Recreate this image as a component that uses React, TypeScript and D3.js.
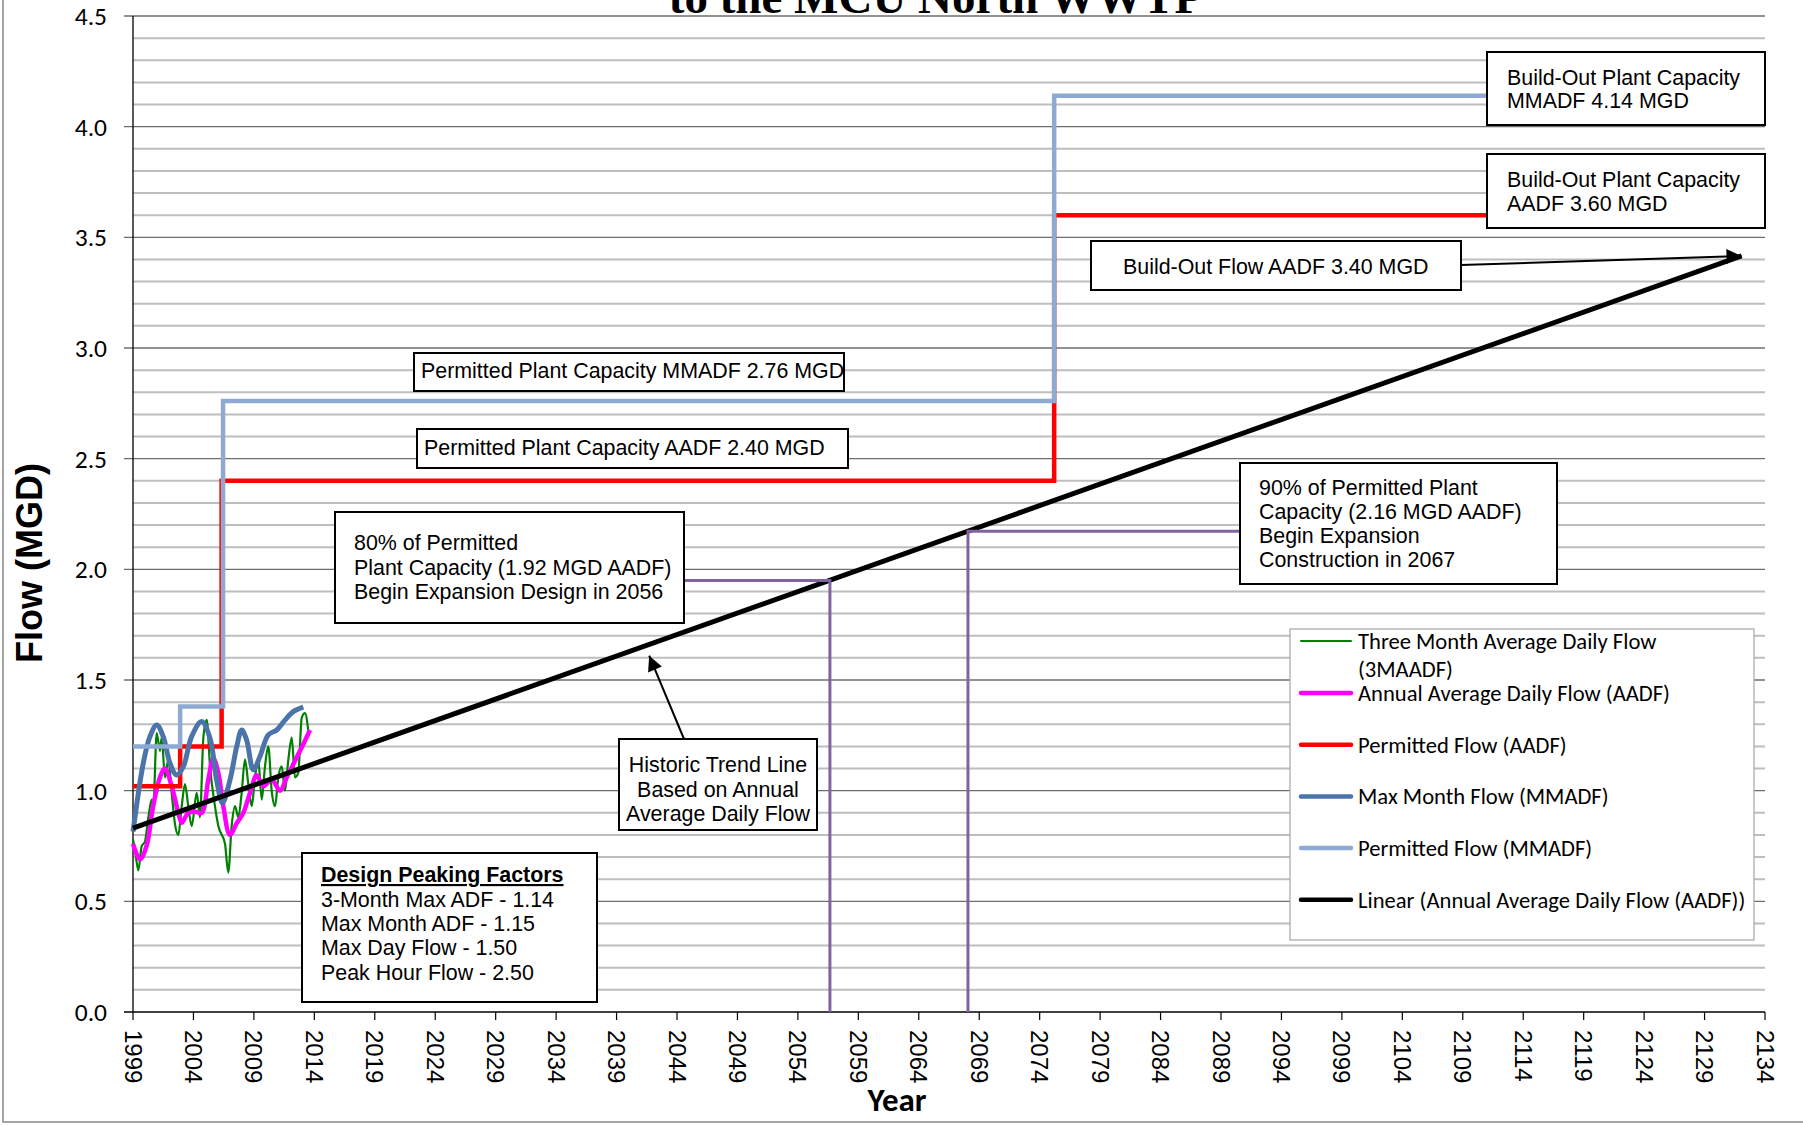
import * as d3 from 'd3';

// ---- data ----
const yearTicks = [1999, 2004, 2009, 2014, 2019, 2024, 2029, 2034, 2039, 2044, 2049, 2054, 2059, 2064, 2069, 2074, 2079, 2084, 2089, 2094, 2099, 2104, 2109, 2114, 2119, 2124, 2129, 2134];
const flowTicks = [0, 0.5, 1, 1.5, 2, 2.5, 3, 3.5, 4, 4.5];

// Three Month Average Daily Flow (3MAADF)
const threeMonthYears = [1999.0, 1999.17, 1999.44, 1999.72, 1999.99, 2000.27, 2000.55, 2000.68, 2000.96, 2001.23, 2001.37, 2001.65, 2001.92, 2002.2, 2002.47, 2002.75, 2003.03, 2003.3, 2003.57, 2003.86, 2004.27, 2004.54, 2004.82, 2005.1, 2005.37, 2005.78, 2006.06, 2006.61, 2006.88, 2007.16, 2007.44, 2007.71, 2007.99, 2008.26, 2008.54, 2008.82, 2009.09, 2009.36, 2009.65, 2009.92, 2010.19, 2010.47, 2010.75, 2011.02, 2011.3, 2011.57, 2011.85, 2012.13, 2012.4, 2012.67, 2012.96, 2013.23, 2013.5];
const threeMonthFlow = [0.78, 0.73, 0.64, 0.75, 0.77, 0.88, 0.96, 0.93, 1.26, 1.18, 1.24, 1.06, 1.14, 0.99, 0.85, 0.8, 0.93, 1.03, 0.93, 0.84, 0.99, 0.88, 1.24, 1.32, 1.11, 0.93, 0.84, 0.76, 0.63, 0.84, 0.93, 0.88, 0.99, 1.14, 1.03, 0.93, 1.06, 1.14, 0.96, 1.11, 1.2, 1.0, 0.93, 1.06, 1.11, 1.0, 1.14, 1.24, 1.06, 1.08, 1.33, 1.35, 1.27];

// Annual Average Daily Flow (AADF)
const annualYears = [1999.0, 1999.58, 2000.12, 2000.67, 2001.23, 2001.64, 2002.2, 2002.75, 2003.03, 2003.57, 2004.13, 2004.68, 2005.23, 2005.64, 2006.06, 2006.47, 2007.02, 2007.58, 2008.13, 2008.68, 2009.23, 2009.78, 2010.47, 2011.16, 2011.71, 2012.54, 2013.09, 2013.64];
const annualFlow = [0.76, 0.69, 0.75, 0.93, 1.06, 1.1, 1.02, 0.9, 0.855, 0.9, 0.905, 0.9, 1.05, 1.146, 1.08, 0.93, 0.8, 0.853, 0.9, 0.99, 1.07, 1.02, 1.05, 1.0, 1.06, 1.15, 1.21, 1.274];

// Max Month Flow (MMADF)
const maxMonthYears = [1999.0, 1999.85, 2000.4, 2000.96, 2001.5, 2002.06, 2002.6, 2003.16, 2003.85, 2004.68, 2005.37, 2005.92, 2006.4, 2007.02, 2007.58, 2007.99, 2008.4, 2008.95, 2009.5, 2010.19, 2010.89, 2011.57, 2012.26, 2013.09];
const maxMonthFlow = [0.815, 1.124, 1.244, 1.297, 1.244, 1.124, 1.071, 1.108, 1.244, 1.312, 1.237, 1.048, 0.945, 1.048, 1.199, 1.274, 1.229, 1.094, 1.154, 1.252, 1.274, 1.319, 1.357, 1.377];

// Permitted flows (step series)
const permittedYears = [1999, 2002.9, 2006.33, 2075.2, 2134];
const permittedAADF = [1.02, 1.2, 2.4, 3.6, 3.6];
const permittedMMADFYears = [1999, 2002.9, 2006.45, 2075.2, 2134];
const permittedMMADF = [1.2, 1.38, 2.76, 4.14, 4.14];

// Linear trend of AADF
const trendYears = [1999, 2132.06];
const trendFlow = [0.831, 3.416];

// 80% / 90% capacity markers
const design80Years = [2030, 2056.65, 2056.65];
const design80Flow = [1.95, 1.95, 0];
const constr90Years = [2068.07, 2068.07, 2095];
const constr90Flow = [0, 2.172, 2.172];

const legendItems = [
  { label: ['Three Month Average Daily Flow', '(3MAADF)'], color: '#008000', width: 2 },
  { label: ['Annual Average Daily Flow (AADF)'], color: '#FF00FF', width: 4.5 },
  { label: ['Permitted Flow (AADF)'], color: '#FF0000', width: 4.5 },
  { label: ['Max Month Flow (MMADF)'], color: '#4A74AA', width: 4.5 },
  { label: ['Permitted Flow (MMADF)'], color: '#8EAAD2', width: 4.5 },
  { label: ['Linear (Annual Average Daily Flow (AADF))'], color: '#000000', width: 4.5 },
];

const W = 1803;
const H = 1125;
const left = 133;
const right = 1765;
const top = 16;
const bottom = 1012;

const arial = '"Liberation Sans", Arial, sans-serif';
const calibri = 'Carlito, Lato, "Open Sans", sans-serif';
const boxFont = 21.4;

export default function App() {
  const x = d3.scaleLinear().domain([1999, 2134]).range([left, right]);
  const y = d3.scaleLinear().domain([0, 4.5]).range([bottom, top]);

  const path = (xs: number[], ys: number[], curve: d3.CurveFactory = d3.curveLinear) =>
    d3
      .line<[number, number]>()
      .x((d) => x(d[0]))
      .y((d) => y(d[1]))
      .curve(curve)(d3.zip(xs, ys) as [number, number][]) || '';

  const minorTicks = y.ticks(45);

  const boxes = [
    { x: 1487, y: 52, w: 278, h: 73, tx: 1507, lines: ['Build-Out Plant Capacity', 'MMADF 4.14 MGD'], base: [85, 108] },
    { x: 1487, y: 154, w: 278, h: 74, tx: 1507, lines: ['Build-Out Plant Capacity', 'AADF 3.60 MGD'], base: [187, 211] },
    { x: 1091, y: 241, w: 370, h: 49, tx: 1123, lines: ['Build-Out Flow AADF 3.40 MGD'], base: [274] },
    { x: 414, y: 353, w: 430, h: 38, tx: 421, lines: ['Permitted Plant Capacity MMADF 2.76 MGD'], base: [378] },
    { x: 417, y: 429, w: 431, h: 39, tx: 424, lines: ['Permitted Plant Capacity AADF 2.40 MGD'], base: [455] },
    { x: 335, y: 512, w: 349, h: 111, tx: 354, lines: ['80% of Permitted', 'Plant Capacity (1.92 MGD AADF)', 'Begin Expansion Design in 2056'], base: [550, 575, 599] },
    { x: 1240, y: 463, w: 317, h: 121, tx: 1259, lines: ['90% of Permitted Plant', 'Capacity (2.16 MGD AADF)', 'Begin Expansion', 'Construction in 2067'], base: [495, 519, 543, 567] },
  ];

  return (
    <svg width={W} height={H} style={{ position: 'absolute', left: 0, top: 0, background: '#fff' }}>
      <defs>
        <marker id="arrow" viewBox="0 0 10 10" refX="10" refY="5" markerUnits="userSpaceOnUse" markerWidth="24" markerHeight="15" orient="auto">
          <path d="M0,0 L10,5 L0,10 Z" fill="#000" />
        </marker>
      </defs>
      <rect width={W} height={H} fill="#fff" />

      {/* title, cut off at the top as in the source */}
      <text x={936} y={13} textAnchor="middle" fontFamily='"Liberation Serif", "Times New Roman", serif' fontWeight="bold" fontSize={47}>
        to the MCU North WWTP
      </text>

      {/* gridlines */}
      {minorTicks.filter((t) => Math.round(t * 10) % 5 !== 0).map((t) => (
        <line key={'m' + t} x1={left} x2={right} y1={y(t)} y2={y(t)} stroke="#BEBEBE" strokeWidth={2} />
      ))}
      {flowTicks.map((t) => (
        <line key={'g' + t} x1={left - 9} x2={right} y1={y(t)} y2={y(t)} stroke={t === 0 ? '#000' : '#6E6E6E'} strokeWidth={1.3} />
      ))}
      <line x1={left} x2={left} y1={top} y2={bottom} stroke="#000" strokeWidth={1.3} />

      {/* y tick labels */}
      {flowTicks.map((t) => (
        <text key={'yl' + t} x={107} y={y(t)} dy="0.35em" textAnchor="end" fontFamily={calibri} fontSize={25.5} fill="#000">
          {t.toFixed(1)}
        </text>
      ))}

      {/* x ticks and labels */}
      {yearTicks.map((t) => (
        <g key={'x' + t}>
          <line x1={x(t)} x2={x(t)} y1={bottom} y2={bottom + 8} stroke="#000" strokeWidth={1.2} />
          <text transform={`translate(${x(t)},1030) rotate(90)`} dominantBaseline="central" fontFamily={arial} fontSize={24}>
            {t}
          </text>
        </g>
      ))}

      {/* axis titles */}
      <text transform="translate(42,563) rotate(-90)" textAnchor="middle" fontFamily={arial} fontWeight="bold" fontSize={36}>
        Flow (MGD)
      </text>
      <text x={897} y={1111} textAnchor="middle" fontFamily={calibri} fontWeight="bold" fontSize={33}>
        Year
      </text>

      {/* series */}
      <path d={path(threeMonthYears, threeMonthFlow, d3.curveMonotoneX)} fill="none" stroke="#008000" strokeWidth={2.2} />
      <path d={path(annualYears, annualFlow, d3.curveCatmullRom.alpha(0.5))} fill="none" stroke="#FF00FF" strokeWidth={4.5} />
      <path d={path(permittedYears, permittedAADF, d3.curveStepAfter)} fill="none" stroke="#FF0000" strokeWidth={4.5} />
      <path d={path(maxMonthYears, maxMonthFlow, d3.curveCatmullRom.alpha(0.5))} fill="none" stroke="#4A74AA" strokeWidth={5} />
      <path d={path(permittedMMADFYears, permittedMMADF, d3.curveStepAfter)} fill="none" stroke="#8EAAD2" strokeWidth={4.5} />
      <path d={path(trendYears, trendFlow)} fill="none" stroke="#000" strokeWidth={5} />
      <path d={path(design80Years, design80Flow)} fill="none" stroke="#8064A2" strokeWidth={3} />
      <path d={path(constr90Years, constr90Flow)} fill="none" stroke="#8064A2" strokeWidth={3} />

      {/* callout boxes */}
      {boxes.map((b, i) => (
        <g key={'b' + i}>
          <rect x={b.x} y={b.y} width={b.w} height={b.h} fill="#fff" stroke="#000" strokeWidth={2} />
          {b.lines.map((l, j) => (
            <text key={j} x={b.tx} y={b.base[j]} fontFamily={arial} fontSize={boxFont}>
              {l}
            </text>
          ))}
        </g>
      ))}

      {/* historic trend box */}
      <rect x={619} y={739} width={198} height={91} fill="#fff" stroke="#000" strokeWidth={2} />
      {['Historic Trend Line', 'Based on Annual', 'Average Daily Flow'].map((l, j) => (
        <text key={'h' + j} x={718} y={772 + j * 24.5} textAnchor="middle" fontFamily={arial} fontSize={boxFont}>
          {l}
        </text>
      ))}

      {/* design peaking factors box */}
      <rect x={302} y={853} width={295} height={149} fill="#fff" stroke="#000" strokeWidth={2} />
      <text x={321} y={882} fontFamily={arial} fontSize={boxFont} fontWeight="bold" textDecoration="underline">
        Design Peaking Factors
      </text>
      {['3-Month Max ADF - 1.14', 'Max Month ADF - 1.15', 'Max Day Flow - 1.50', 'Peak Hour Flow - 2.50'].map((l, j) => (
        <text key={'d' + j} x={321} y={907 + j * 24.2} fontFamily={arial} fontSize={boxFont}>
          {l}
        </text>
      ))}

      {/* arrows */}
      <line x1={1461} y1={265} x2={x(trendYears[1])} y2={y(trendFlow[1])} stroke="#000" strokeWidth={2} markerEnd="url(#arrow)" />
      <line x1={684} y1={739} x2={x(2041.7)} y2={y(1.61)} stroke="#000" strokeWidth={2} markerEnd="url(#arrow)" />

      {/* legend */}
      <rect x={1290} y={629} width={464} height={311} fill="#fff" stroke="#A6A6A6" strokeWidth={1.2} />
      {legendItems.map((it, i) => {
        const cy = i === 0 ? 641 : 693 + (i - 1) * 51.7;
        return (
          <g key={'l' + i}>
            <line x1={1301} x2={1351} y1={cy} y2={cy} stroke={it.color} strokeWidth={it.width} strokeLinecap="round" />
            {it.label.map((s, j) => (
              <text key={j} x={1358} y={cy + 8 + j * 28} fontFamily={calibri} fontSize={22.6} fill="#000">
                {s}
              </text>
            ))}
          </g>
        );
      })}

      {/* outer frame */}
      <path d="M3,0 V1122 H1803" fill="none" stroke="#878787" strokeWidth={1.5} />
    </svg>
  );
}
